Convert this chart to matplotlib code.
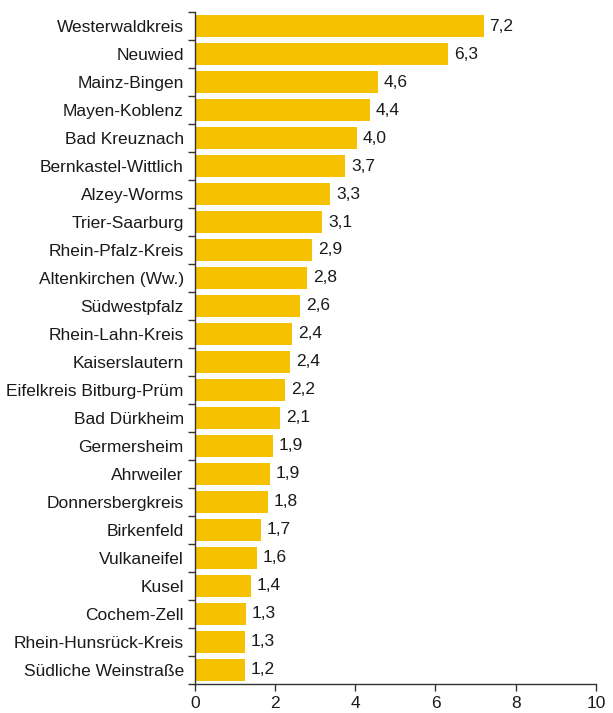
import matplotlib
matplotlib.use('Agg')
import matplotlib.pyplot as plt
import numpy as np

plt.rcParams['font.family'] = ['Liberation Sans', 'DejaVu Sans']

districts = ['Westerwaldkreis', 'Neuwied', 'Mainz-Bingen', 'Mayen-Koblenz',
             'Bad Kreuznach', 'Bernkastel-Wittlich', 'Alzey-Worms', 'Trier-Saarburg',
             'Rhein-Pfalz-Kreis', 'Altenkirchen (Ww.)', 'Südwestpfalz', 'Rhein-Lahn-Kreis',
             'Kaiserslautern', 'Eifelkreis Bitburg-Prüm', 'Bad Dürkheim', 'Germersheim',
             'Ahrweiler', 'Donnersbergkreis', 'Birkenfeld', 'Vulkaneifel', 'Kusel',
             'Cochem-Zell', 'Rhein-Hunsrück-Kreis', 'Südliche Weinstraße']
# bar lengths
values = [7.2, 6.31, 4.56, 4.36, 4.04, 3.74, 3.37, 3.17, 2.92, 2.79, 2.62, 2.42,
          2.37, 2.24, 2.12, 1.95, 1.87, 1.82, 1.65, 1.55, 1.4, 1.27, 1.25, 1.25]
# printed values
value_labels = ['7,2', '6,3', '4,6', '4,4', '4,0', '3,7', '3,3', '3,1', '2,9', '2,8',
                '2,6', '2,4', '2,4', '2,2', '2,1', '1,9', '1,9', '1,8', '1,7', '1,6',
                '1,4', '1,3', '1,3', '1,2']

fs = 12.5

fig = plt.figure(figsize=(6.13, 7.13), dpi=100)
ax = fig.add_axes([0.318, 0.041, 0.654, 0.942])

y = np.arange(len(districts))
ax.barh(y, values, height=0.78, color='#F5C100')
for yi, v, lab in zip(y, values, value_labels):
    ax.text(v + 0.15, yi, lab, va='center', ha='left', fontsize=fs, color='#1a1a1a')

ax.set_ylim(len(districts) - 0.5, -0.5)
ax.set_xlim(0, 10)
ax.set_xticks([0, 2, 4, 6, 8, 10])
ax.set_xticklabels(['0', '2', '4', '6', '8', '10'], fontsize=fs)
ax.set_yticks(y)
ax.set_yticklabels(districts, fontsize=fs, color='#1a1a1a')
ax.tick_params(axis='y', which='major', length=0, pad=8)
ax.set_yticks(np.arange(-0.5, len(districts), 1), minor=True)
ax.tick_params(axis='y', which='minor', length=5, width=1, color='#333333')
ax.tick_params(axis='x', length=5, width=1, color='#333333', pad=4, labelcolor='#1a1a1a')

for s in ['top', 'right']:
    ax.spines[s].set_visible(False)
for s in ['left', 'bottom']:
    ax.spines[s].set_color('#333333')
    ax.spines[s].set_linewidth(1)

fig.savefig('out.png', dpi=100)
